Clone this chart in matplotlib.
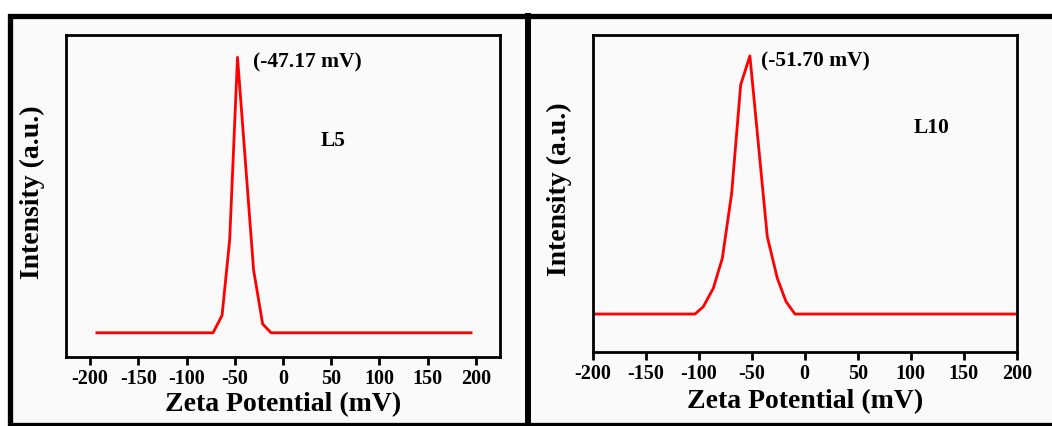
import matplotlib
matplotlib.use('Agg')
import matplotlib.pyplot as plt
from matplotlib.patches import Rectangle

plt.rcParams['font.family'] = ['Liberation Serif', 'DejaVu Serif']
plt.rcParams['font.weight'] = 'bold'
plt.rcParams['axes.unicode_minus'] = False

# L5 zeta potential curve
l5_mv = [-193, -72.5, -63.2, -55.3, -47.17, -30.5, -21.1, -12.4, 195]
l5_int = [0, 0, 0.063, 0.337, 1.0, 0.228, 0.032, 0, 0]

# L10 zeta potential curve
l10_mv = [-198, -103.5, -95.7, -86.2, -77.7, -68.9, -60.4, -51.7, -35.3, -25.8, -17.6, -9.2, 198]
l10_int = [0, 0, 0.028, 0.100, 0.216, 0.468, 0.888, 1.0, 0.300, 0.138, 0.048, 0, 0]

xticks = [-200, -150, -100, -50, 0, 50, 100, 150, 200]

W, H = 1052, 426
fig = plt.figure(figsize=(W / 100, H / 100), dpi=100, facecolor='white')

# outer frame with divider (behind the axes)
box = Rectangle((10 / W, 1.5 / H), 1.2, 1 - 17 / H, transform=fig.transFigure,
                facecolor='#fafafa', edgecolor='black', linewidth=3.8, clip_on=False, zorder=-10)
fig.add_artist(box)
fig.add_artist(plt.Line2D([528 / W, 528 / W], [0, 1 - 15.5 / H], transform=fig.transFigure,
                          color='black', linewidth=4.3, zorder=-5))


def panel(rect, x, y, xlim, ylim, peak_text, peak_pos, name, name_pos, xlab_y):
    ax = fig.add_axes(rect)
    ax.set_facecolor('#fafafa')
    ax.plot(x, y, color='red', linewidth=2)
    ax.set_xlim(*xlim)
    ax.set_ylim(*ylim)
    ax.set_xticks(xticks)
    ax.set_yticks([])
    ax.tick_params(axis='x', direction='out', length=5.5, width=2, labelsize=14.5, pad=3)
    for lab in ax.get_xticklabels():
        lab.set_fontweight('bold')
    for s in ax.spines.values():
        s.set_linewidth(2)
    ax.set_xlabel('Zeta Potential (mV)', fontsize=20, fontweight='bold')
    ax.xaxis.label.set_verticalalignment('center')
    ax.xaxis.set_label_coords(0.5, xlab_y)
    ax.set_ylabel('Intensity (a.u.)', fontsize=20, fontweight='bold')
    ax.yaxis.label.set_verticalalignment('center')
    ax.yaxis.set_label_coords(-0.078, 0.512)
    ax.text(peak_pos[0], peak_pos[1], peak_text, fontsize=15.5, fontweight='bold',
            ha='left', va='center')
    ax.text(name_pos[0], name_pos[1], name, fontsize=15.5, fontweight='bold',
            ha='center', va='center')
    return ax


panel([66 / W, (H - 357.3) / H, 434 / W, 322.3 / H], l5_mv, l5_int,
      (-225, 225), (-0.089, 1.081), '(-47.17 mV)', (-31, 0.98), 'L5', (52, 0.696), -0.148)
panel([592.7 / W, (H - 351.7) / H, 424 / W, 316.7 / H], l10_mv, l10_int,
      (-200, 200), (-0.146, 1.081), '(-51.70 mV)', (-41, 0.98), 'L10', (120, 0.721), -0.158)

plt.savefig('out.png', dpi=100)
